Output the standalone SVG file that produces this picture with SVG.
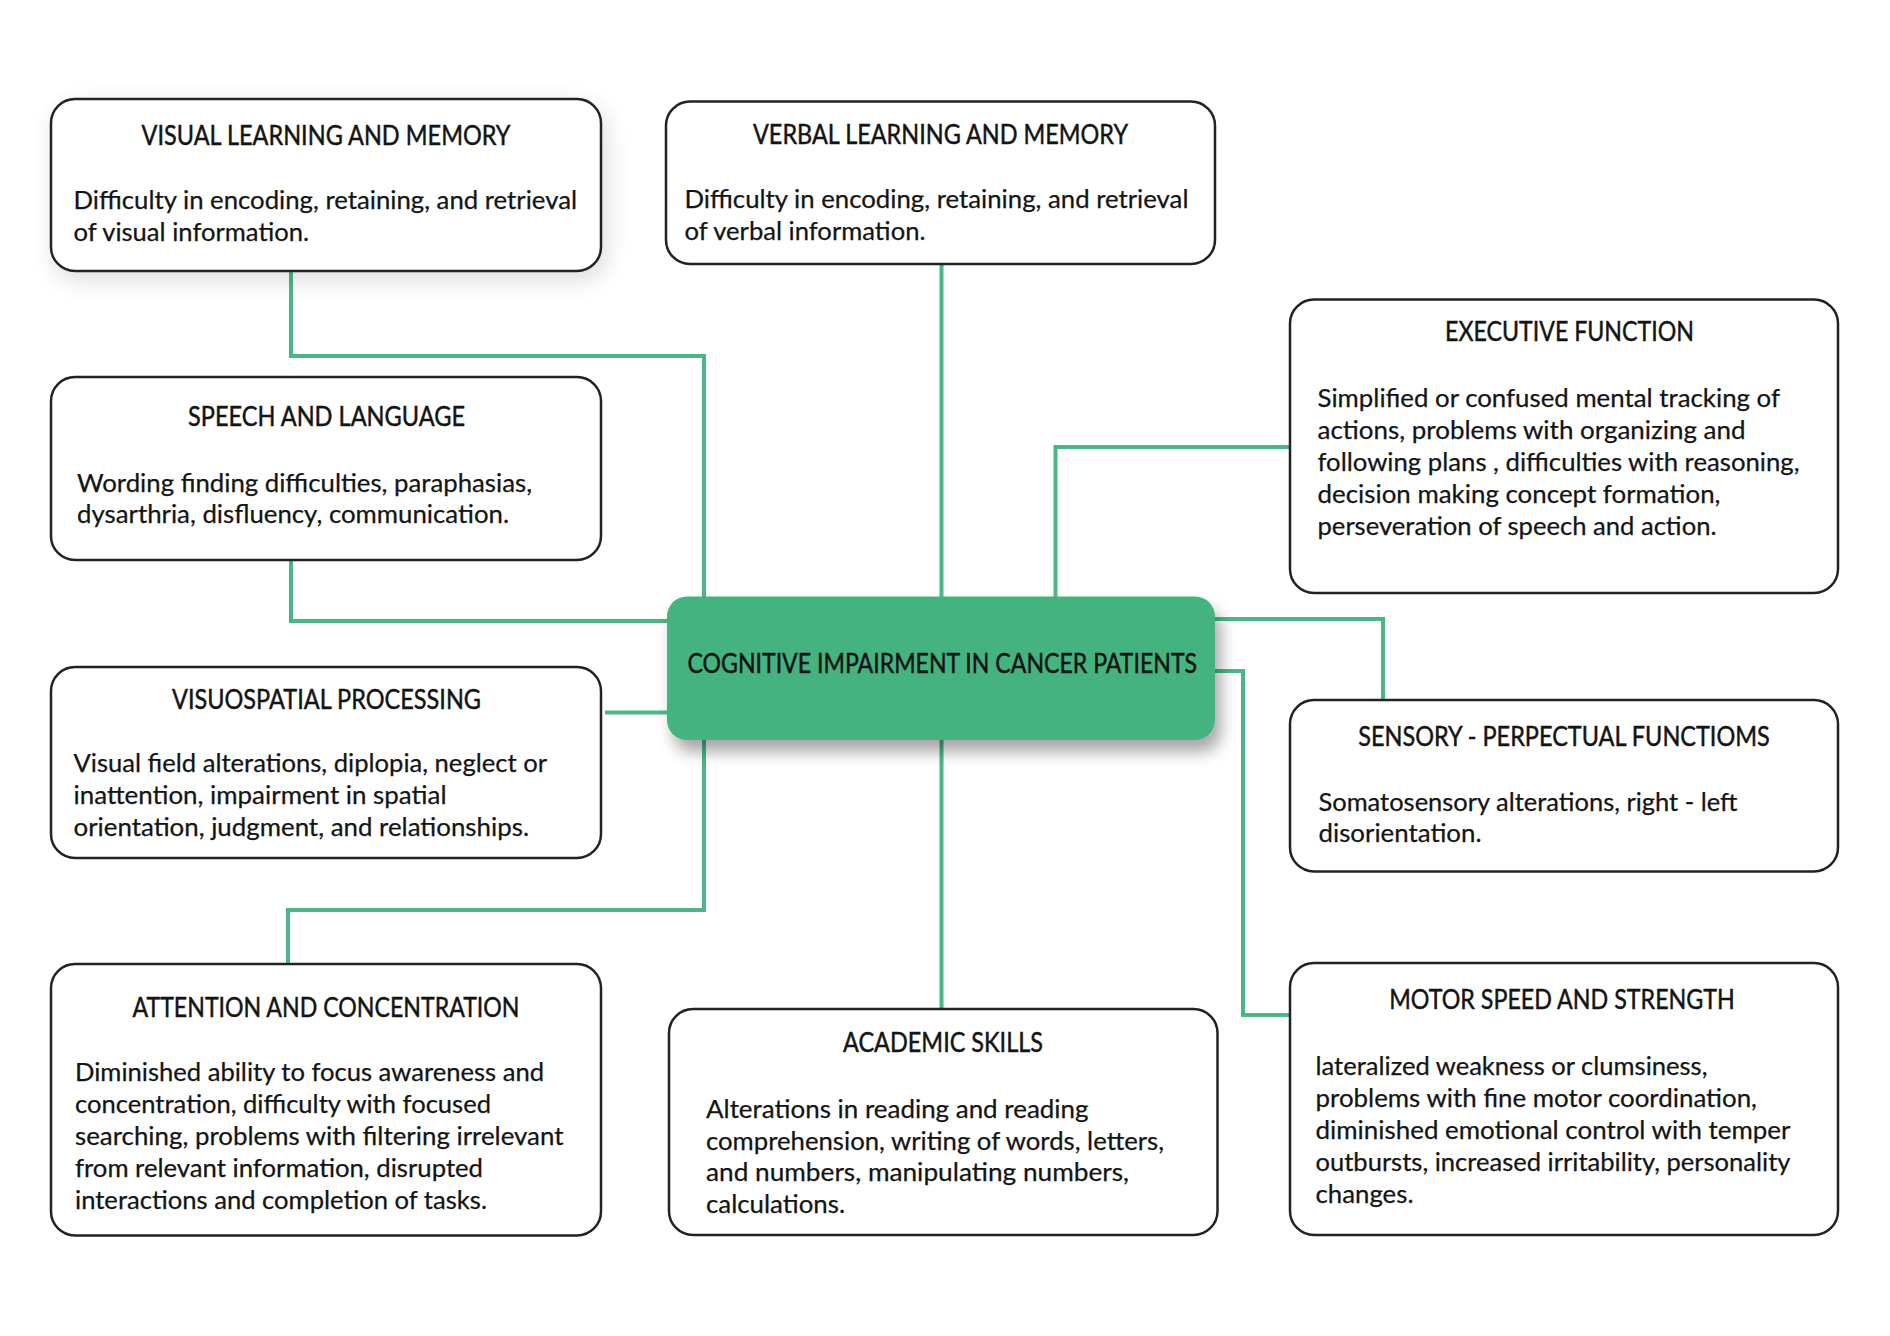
<svg xmlns="http://www.w3.org/2000/svg" width="1890" height="1336" viewBox="0 0 1890 1336">
<defs>
<filter id="softShadow" x="-20%" y="-30%" width="140%" height="170%">
<feGaussianBlur in="SourceAlpha" stdDeviation="12"/>
<feOffset dx="4" dy="8" result="b"/>
<feComponentTransfer><feFuncA type="linear" slope="0.14"/></feComponentTransfer>
<feMerge><feMergeNode/><feMergeNode in="SourceGraphic"/></feMerge>
</filter>
<filter id="centerShadow" x="-20%" y="-30%" width="140%" height="180%">
<feGaussianBlur in="SourceAlpha" stdDeviation="8"/>
<feOffset dx="6" dy="12" result="b"/>
<feComponentTransfer><feFuncA type="linear" slope="0.35"/></feComponentTransfer>
<feMerge><feMergeNode/><feMergeNode in="SourceGraphic"/></feMerge>
</filter>
</defs>
<style>
.box{fill:#ffffff;stroke:#222222;stroke-width:2.5}
.center{fill:#45b37f}
.title{font-family:Lato,"Liberation Sans",sans-serif;font-size:26px;fill:#141414;stroke:#141414;stroke-width:0.45}
.body{font-family:Lato,"Liberation Sans",sans-serif;font-size:25px;fill:#141414;stroke:#141414;stroke-width:0.25}
.conn{fill:none;stroke:#4cb786;stroke-width:4;stroke-linejoin:miter}
</style>
<rect width="1890" height="1336" fill="#ffffff"/>

<g id="connectors">
<path class="conn" d="M291 271 V356 H704 V597"/>
<path class="conn" d="M291 560 V621 H668"/>
<path class="conn" d="M941.5 264 V597"/>
<path class="conn" d="M1290 447 H1055.5 V597"/>
<path class="conn" d="M1214 619 H1383 V700"/>
<path class="conn" d="M1214 671 H1243 V1015 H1290"/>
<path class="conn" d="M605 712.5 H668"/>
<path class="conn" d="M704 739 V910 H288 V964"/>
<path class="conn" d="M941.5 739 V1009"/>
</g>

<g id="visual-learning">
<rect class="box" x="51" y="99" width="550" height="172" rx="24" filter="url(#softShadow)"/>
<text class="title" x="326" y="145" text-anchor="middle" textLength="369" lengthAdjust="spacingAndGlyphs">VISUAL LEARNING AND MEMORY</text>
<text class="body" x="73.5" y="208.8" textLength="503.5" lengthAdjust="spacingAndGlyphs">Difficulty in encoding, retaining, and retrieval</text>
<text class="body" x="73.5" y="240.7" textLength="235.5" lengthAdjust="spacingAndGlyphs">of visual information.</text>
</g>

<g id="verbal-learning">
<rect class="box" x="666" y="101.5" width="549" height="162.5" rx="24"/>
<text class="title" x="940.5" y="144" text-anchor="middle" textLength="375" lengthAdjust="spacingAndGlyphs">VERBAL LEARNING AND MEMORY</text>
<text class="body" x="684.5" y="207.8" textLength="504" lengthAdjust="spacingAndGlyphs">Difficulty in encoding, retaining, and retrieval</text>
<text class="body" x="684.5" y="239.5" textLength="241" lengthAdjust="spacingAndGlyphs">of verbal information.</text>
</g>

<g id="speech-language">
<rect class="box" x="51" y="377" width="550" height="183" rx="24"/>
<text class="title" x="326.5" y="426" text-anchor="middle" textLength="277" lengthAdjust="spacingAndGlyphs">SPEECH AND LANGUAGE</text>
<text class="body" x="77" y="492" textLength="455" lengthAdjust="spacingAndGlyphs">Wording finding difficulties, paraphasias,</text>
<text class="body" x="77" y="523" textLength="432" lengthAdjust="spacingAndGlyphs">dysarthria, disfluency, communication.</text>
</g>

<g id="visuospatial">
<rect class="box" x="51" y="667" width="550" height="191" rx="24"/>
<text class="title" x="326.5" y="708.5" text-anchor="middle" textLength="309" lengthAdjust="spacingAndGlyphs">VISUOSPATIAL PROCESSING</text>
<text class="body" x="73.5" y="772" textLength="473.5" lengthAdjust="spacingAndGlyphs">Visual field alterations, diplopia, neglect or</text>
<text class="body" x="73.5" y="804" textLength="373" lengthAdjust="spacingAndGlyphs">inattention, impairment in spatial</text>
<text class="body" x="73.5" y="836" textLength="455.5" lengthAdjust="spacingAndGlyphs">orientation, judgment, and relationships.</text>
</g>

<g id="attention">
<rect class="box" x="51" y="964" width="550" height="271.5" rx="24"/>
<text class="title" x="326" y="1016.5" text-anchor="middle" textLength="387" lengthAdjust="spacingAndGlyphs">ATTENTION AND CONCENTRATION</text>
<text class="body" x="75" y="1081" textLength="469" lengthAdjust="spacingAndGlyphs">Diminished ability to focus awareness and</text>
<text class="body" x="75" y="1113" textLength="416" lengthAdjust="spacingAndGlyphs">concentration, difficulty with focused</text>
<text class="body" x="75" y="1145" textLength="488.5" lengthAdjust="spacingAndGlyphs">searching, problems with filtering irrelevant</text>
<text class="body" x="75" y="1177" textLength="408" lengthAdjust="spacingAndGlyphs">from relevant information, disrupted</text>
<text class="body" x="75" y="1209" textLength="412" lengthAdjust="spacingAndGlyphs">interactions and completion of tasks.</text>
</g>

<g id="academic">
<rect class="box" x="669" y="1009" width="548.5" height="226" rx="24"/>
<text class="title" x="943" y="1051.5" text-anchor="middle" textLength="200" lengthAdjust="spacingAndGlyphs">ACADEMIC SKILLS</text>
<text class="body" x="706" y="1117.5" textLength="382.5" lengthAdjust="spacingAndGlyphs">Alterations in reading and reading</text>
<text class="body" x="706" y="1149.5" textLength="458" lengthAdjust="spacingAndGlyphs">comprehension, writing of words, letters,</text>
<text class="body" x="706" y="1181" textLength="423" lengthAdjust="spacingAndGlyphs">and numbers, manipulating numbers,</text>
<text class="body" x="706" y="1213" textLength="139" lengthAdjust="spacingAndGlyphs">calculations.</text>
</g>

<g id="executive">
<rect class="box" x="1290" y="299.5" width="548" height="293.5" rx="24"/>
<text class="title" x="1569.5" y="341" text-anchor="middle" textLength="249" lengthAdjust="spacingAndGlyphs">EXECUTIVE FUNCTION</text>
<text class="body" x="1317.5" y="407" textLength="462.5" lengthAdjust="spacingAndGlyphs">Simplified or confused mental tracking of</text>
<text class="body" x="1317.5" y="439" textLength="428" lengthAdjust="spacingAndGlyphs">actions, problems with organizing and</text>
<text class="body" x="1317.5" y="471" textLength="482" lengthAdjust="spacingAndGlyphs">following plans , difficulties with reasoning,</text>
<text class="body" x="1317.5" y="503" textLength="403" lengthAdjust="spacingAndGlyphs">decision making concept formation,</text>
<text class="body" x="1317.5" y="535" textLength="399" lengthAdjust="spacingAndGlyphs">perseveration of speech and action.</text>
</g>

<g id="sensory">
<rect class="box" x="1290" y="700" width="548" height="171.5" rx="24"/>
<text class="title" x="1564" y="746" text-anchor="middle" textLength="411.5" lengthAdjust="spacingAndGlyphs">SENSORY - PERPECTUAL FUNCTIOMS</text>
<text class="body" x="1318.5" y="810.7" textLength="419" lengthAdjust="spacingAndGlyphs">Somatosensory alterations, right - left</text>
<text class="body" x="1318.5" y="842" textLength="163" lengthAdjust="spacingAndGlyphs">disorientation.</text>
</g>

<g id="motor">
<rect class="box" x="1290" y="963" width="548" height="272" rx="24"/>
<text class="title" x="1562" y="1008.8" text-anchor="middle" textLength="345.5" lengthAdjust="spacingAndGlyphs">MOTOR SPEED AND STRENGTH</text>
<text class="body" x="1315.5" y="1075" textLength="392" lengthAdjust="spacingAndGlyphs">lateralized weakness or clumsiness,</text>
<text class="body" x="1315.5" y="1107" textLength="441.5" lengthAdjust="spacingAndGlyphs">problems with fine motor coordination,</text>
<text class="body" x="1315.5" y="1139" textLength="475" lengthAdjust="spacingAndGlyphs">diminished emotional control with temper</text>
<text class="body" x="1315.5" y="1171" textLength="475" lengthAdjust="spacingAndGlyphs">outbursts, increased irritability, personality</text>
<text class="body" x="1315.5" y="1203" textLength="98" lengthAdjust="spacingAndGlyphs">changes.</text>
</g>

<g id="center">
<rect class="center" x="667" y="596.5" width="548" height="143.5" rx="20" filter="url(#centerShadow)"/>
<text class="title" x="687.5" y="672.7" textLength="509.5" lengthAdjust="spacingAndGlyphs">COGNITIVE IMPAIRMENT IN CANCER PATIENTS</text>
</g>
</svg>
